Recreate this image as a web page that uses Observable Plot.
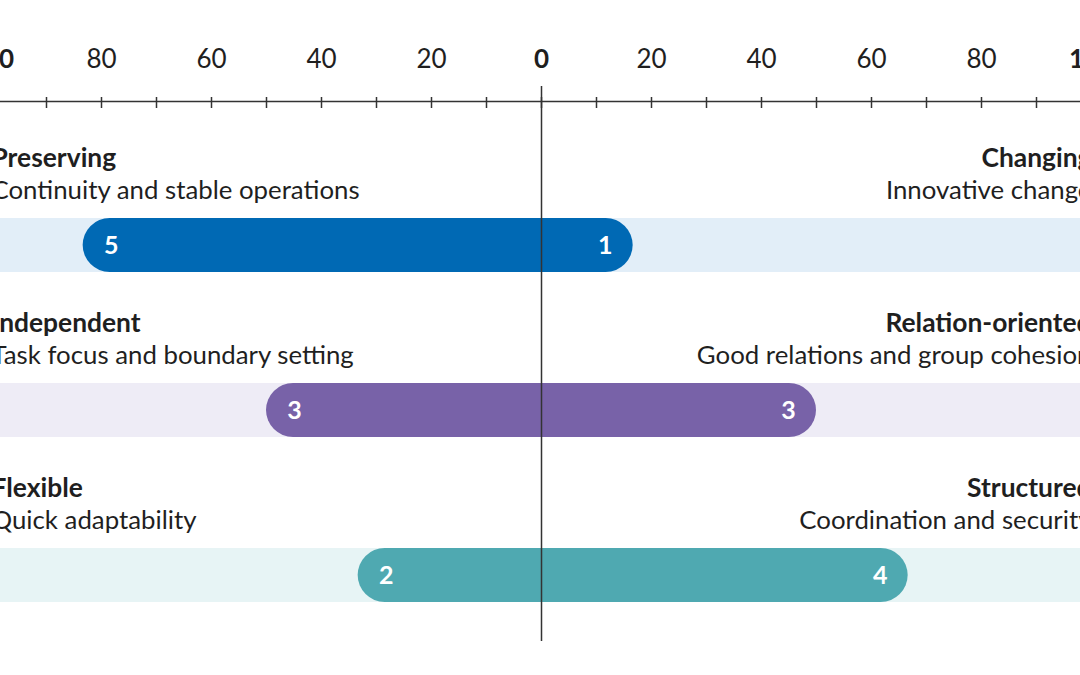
<!DOCTYPE html>
<html>
<head>
<meta charset="utf-8">
<script src="https://cdn.jsdelivr.net/npm/d3@7"></script>
<script src="https://cdn.jsdelivr.net/npm/@observablehq/plot@0.6"></script>
<style>
  html, body { margin: 0; padding: 0; background: #fff; overflow: hidden; }
  #chart { width: 1080px; height: 675px; }
</style>
</head>
<body>
<div id="chart"></div>
<script>
// ---- data ----
const rowKeys = ["r1", "r2", "r3"];
const leftTitles = ["Preserving", "Independent", "Flexible"];
const leftSubtitles = ["Continuity and stable operations", "Task focus and boundary setting", "Quick adaptability"];
const rightTitles = ["Changing", "Relation-oriented", "Structured"];
const rightSubtitles = ["Innovative change", "Good relations and group cohesion", "Coordination and security"];
const leftCounts = [5, 3, 2];
const rightCounts = [1, 3, 4];
const barColors = ["#0069b4", "#7862a8", "#4fa9b1"];
const bgColors = ["#e2eef8", "#eeecf6", "#e7f4f5"];
const majorTicks = [-80, -60, -40, -20, 20, 40, 60, 80];
const boldTicks = [-100, 0, 100];
const minorTicks = d3.range(-100, 101, 10);

const rows = rowKeys.map((k, i) => {
  const total = leftCounts[i] + rightCounts[i];
  return {
    key: k,
    left: -100 * leftCounts[i] / total,
    right: 100 * rightCounts[i] / total,
    leftCount: leftCounts[i],
    rightCount: rightCounts[i],
    leftTitle: leftTitles[i], leftSub: leftSubtitles[i],
    rightTitle: rightTitles[i], rightSub: rightSubtitles[i],
    color: barColors[i], bg: bgColors[i]
  };
});

const font = "Lato";
const ink = "#1f1f1f";

const chart = Plot.plot({
  width: 1080,
  height: 675,
  marginTop: 101,
  marginBottom: 34,
  marginLeft: 0,
  marginRight: 0,
  style: { fontFamily: font, color: ink, background: "#fff" },
  x: { domain: [-100, 100], range: [-9, 1091], axis: null },
  y: { type: "band", domain: rowKeys, range: [218, 602], paddingInner: 0.673, paddingOuter: 0, axis: null },
  color: { type: "identity" },
  marks: [
    // background bands
    Plot.barX(rows, { x1: -100, x2: 100, y: "key", fill: "bg" }),
    // rounded bars
    Plot.barX(rows, { x1: "left", x2: "right", y: "key", fill: "color", rx: 27 }),
    // counts inside bars
    Plot.text(rows, { x: "left", y: "key", text: "leftCount", dx: 28, fill: "white", fontWeight: "bold", fontSize: 25, fontFamily: font }),
    Plot.text(rows, { x: "right", y: "key", text: "rightCount", dx: -28, fill: "white", fontWeight: "bold", fontSize: 25, fontFamily: font }),
    // titles
    Plot.text(rows, { x: -100, y: "key", text: "leftTitle", textAnchor: "start", dy: -87, fontWeight: "bold", fontSize: 26.4, fill: ink, fontFamily: font }),
    Plot.text(rows, { x: -100, y: "key", text: "leftSub", textAnchor: "start", dy: -55, fontSize: 25.8, fill: ink, fontFamily: font }),
    Plot.text(rows, { x: 100, y: "key", text: "rightTitle", textAnchor: "end", dy: -87, fontWeight: "bold", fontSize: 26.4, fill: ink, fontFamily: font }),
    Plot.text(rows, { x: 100, y: "key", text: "rightSub", textAnchor: "end", dy: -55, fontSize: 25.8, fill: ink, fontFamily: font }),
    // axis line
    Plot.frame({ anchor: "top", stroke: "#333", strokeWidth: 1.5 }),
    // tick marks crossing the axis line
    Plot.axisX({ anchor: "top", ticks: minorTicks, tickSize: 11, dy: 6, tickFormat: () => "", stroke: "#333", strokeWidth: 1.5 }),
    // tick labels
    Plot.axisX({ anchor: "top", ticks: majorTicks, tickSize: 0, tickPadding: 34, tickFormat: d => Math.abs(d), fontSize: 26, fill: ink, fontFamily: font }),
    Plot.axisX({ anchor: "top", ticks: boldTicks, tickSize: 0, tickPadding: 34, tickFormat: d => Math.abs(d), fontSize: 26, fontWeight: "bold", fill: ink, fontFamily: font }),
    // centre line
    Plot.ruleX([0], { stroke: "#333", strokeWidth: 1.5, insetTop: -15 })
  ]
});

document.getElementById("chart").appendChild(chart);
</script>
</body>
</html>
